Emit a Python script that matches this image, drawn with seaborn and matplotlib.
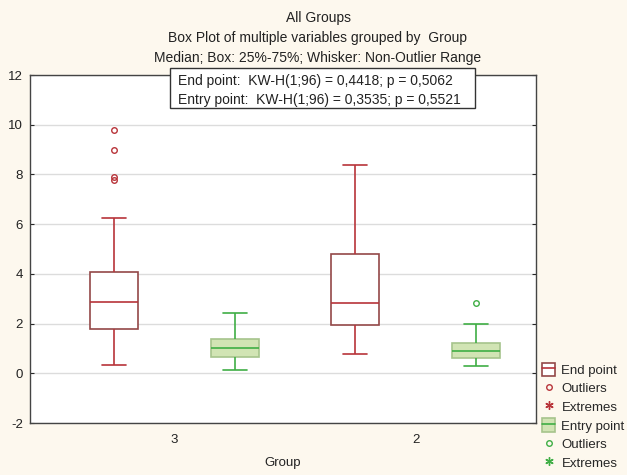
import numpy as np
import pandas as pd
import matplotlib
matplotlib.use("Agg")
import matplotlib.pyplot as plt
import seaborn as sns
from matplotlib.patches import Patch, Rectangle
from matplotlib.lines import Line2D

# ---- data (samples chosen to reproduce quartiles/whiskers/outliers)
groups = ["3", "2"]
variables = ["End point", "Entry point"]
end_g3 = [0.35, 0.9, 1.2, 1.5, 1.7, 1.80, 2.1, 2.4, 2.6, 2.8, 2.87,
          3.1, 3.4, 3.7, 3.9, 4.07, 6.25, 7.76, 7.9, 9.0, 9.77]
end_g2 = [0.78, 1.5, 1.93, 2.4, 2.83, 3.8, 4.79, 6.5, 8.37]
entry_g3 = [0.13, 0.45, 0.64, 0.85, 1.03, 1.2, 1.36, 1.9, 2.43]
entry_g2 = [0.31, 0.45, 0.55, 0.63, 0.75, 0.85, 0.91, 1.0, 1.1, 1.21, 1.5, 1.97, 2.84]
yticks = [-2, 0, 2, 4, 6, 8, 10, 12]
title_lines = ["All Groups",
               "Box Plot of multiple variables grouped by  Group",
               "Median; Box: 25%-75%; Whisker: Non-Outlier Range"]
stats_lines = ["End point:  KW-H(1;96) = 0,4418; p = 0,5062",
               "Entry point:  KW-H(1;96) = 0,3535; p = 0,5521"]

rows = []
for g, vals in (("3", end_g3), ("2", end_g2)):
    rows += [{"Group": g, "Variable": "End point", "Value": v} for v in vals]
for g, vals in (("3", entry_g3), ("2", entry_g2)):
    rows += [{"Group": g, "Variable": "Entry point", "Value": v} for v in vals]
df = pd.DataFrame(rows)

BG = "#fdf8ee"
RED_EDGE = "#934848"
RED = "#b8343a"
GREEN_EDGE = "#a6c48c"
GREEN_FILL = "#d1e4b4"
GREEN = "#3fae45"
TXT = "#222222"

sns.set_style("white")
plt.rcParams["font.family"] = ["Liberation Sans", "DejaVu Sans"]

fig = plt.figure(figsize=(6.27, 4.75), dpi=100, facecolor=BG)
ax = fig.add_axes([30 / 627, 1 - 423 / 475, 506 / 627, 348 / 475])
ax.set_facecolor("white")

styles = {
    "End point": dict(face="white", edge=RED_EDGE, line=RED),
    "Entry point": dict(face=GREEN_FILL, edge=GREEN_EDGE, line=GREEN),
}
for var in variables:
    st = styles[var]
    sns.boxplot(data=df[df["Variable"] == var], x="Group", y="Value",
                hue="Variable", hue_order=variables, order=groups, dodge=True,
                width=1.0, gap=0.6, whis=1.5, legend=False, ax=ax,
                boxprops=dict(facecolor=st["face"], edgecolor=st["edge"], linewidth=1.2),
                whiskerprops=dict(color=st["line"], linewidth=1.2),
                capprops=dict(color=st["line"], linewidth=1.2),
                medianprops=dict(color=st["line"], linewidth=1.2),
                flierprops=dict(marker="o", markersize=4, markerfacecolor="none",
                                markeredgecolor=st["line"], markeredgewidth=1.0))

ax.set_xlim(-0.6, 1.5)
ax.set_ylim(-2, 12)
ax.set_yticks(yticks)
ax.set_yticklabels([str(t) for t in yticks], fontsize=9.5, color=TXT)
ax.tick_params(axis="x", labelsize=9.5, colors=TXT, length=3, direction="out", pad=5)
ax.tick_params(axis="y", left=True, right=True, length=3, direction="in", pad=5)
ax.yaxis.grid(True, color="#dcdcdc", linewidth=1)
ax.set_axisbelow(True)
for s in ax.spines.values():
    s.set_color("#444444")
    s.set_linewidth(1.0)
ax.set_xlabel("Group", fontsize=9.5, color=TXT, labelpad=8)
ax.set_ylabel("")

# titles
for i, line in enumerate(title_lines):
    fig.text(318 / 627, 1 - (18 + 20 * i) / 475, line, ha="center", va="center",
             fontsize=10, color=TXT)

# statistics box
fig.add_artist(Rectangle((170 / 627, 1 - 108 / 475), 305 / 627, 40 / 475,
                         transform=fig.transFigure, facecolor="white",
                         edgecolor="#333333", linewidth=1.0, zorder=9))
for i, line in enumerate(stats_lines):
    fig.text(178 / 627, 1 - (81 + 19 * i) / 475, line, ha="left", va="center",
             fontsize=10, color=TXT, zorder=10)

# legend
def box_handle(face, edge, line):
    return (Patch(facecolor=face, edgecolor=edge, linewidth=1.2),
            Line2D([0, 1], [0.5, 0.5], color=line, linewidth=1.2))

handles = [
    box_handle("white", RED_EDGE, RED),
    Line2D([], [], linestyle="none", marker="o", markersize=4, markerfacecolor="none",
           markeredgecolor=RED),
    Line2D([], [], linestyle="none", marker=(6, 2, 0), markersize=6, markeredgecolor=RED,
           color=RED),
    box_handle(GREEN_FILL, GREEN_EDGE, GREEN),
    Line2D([], [], linestyle="none", marker="o", markersize=4, markerfacecolor="none",
           markeredgecolor=GREEN),
    Line2D([], [], linestyle="none", marker=(6, 2, 0), markersize=6, markeredgecolor=GREEN,
           color=GREEN),
]
labels = ["End point", "Outliers", "Extremes", "Entry point", "Outliers", "Extremes"]
fig.legend(handles, labels, loc="upper left", bbox_to_anchor=(539 / 627, 1 - 360 / 475),
           frameon=False, fontsize=9.5, handlelength=1.05, handleheight=1.2,
           handletextpad=0.45, labelspacing=0.33, borderaxespad=0, borderpad=0.2)

fig.savefig("out.png", dpi=100, facecolor=BG)
